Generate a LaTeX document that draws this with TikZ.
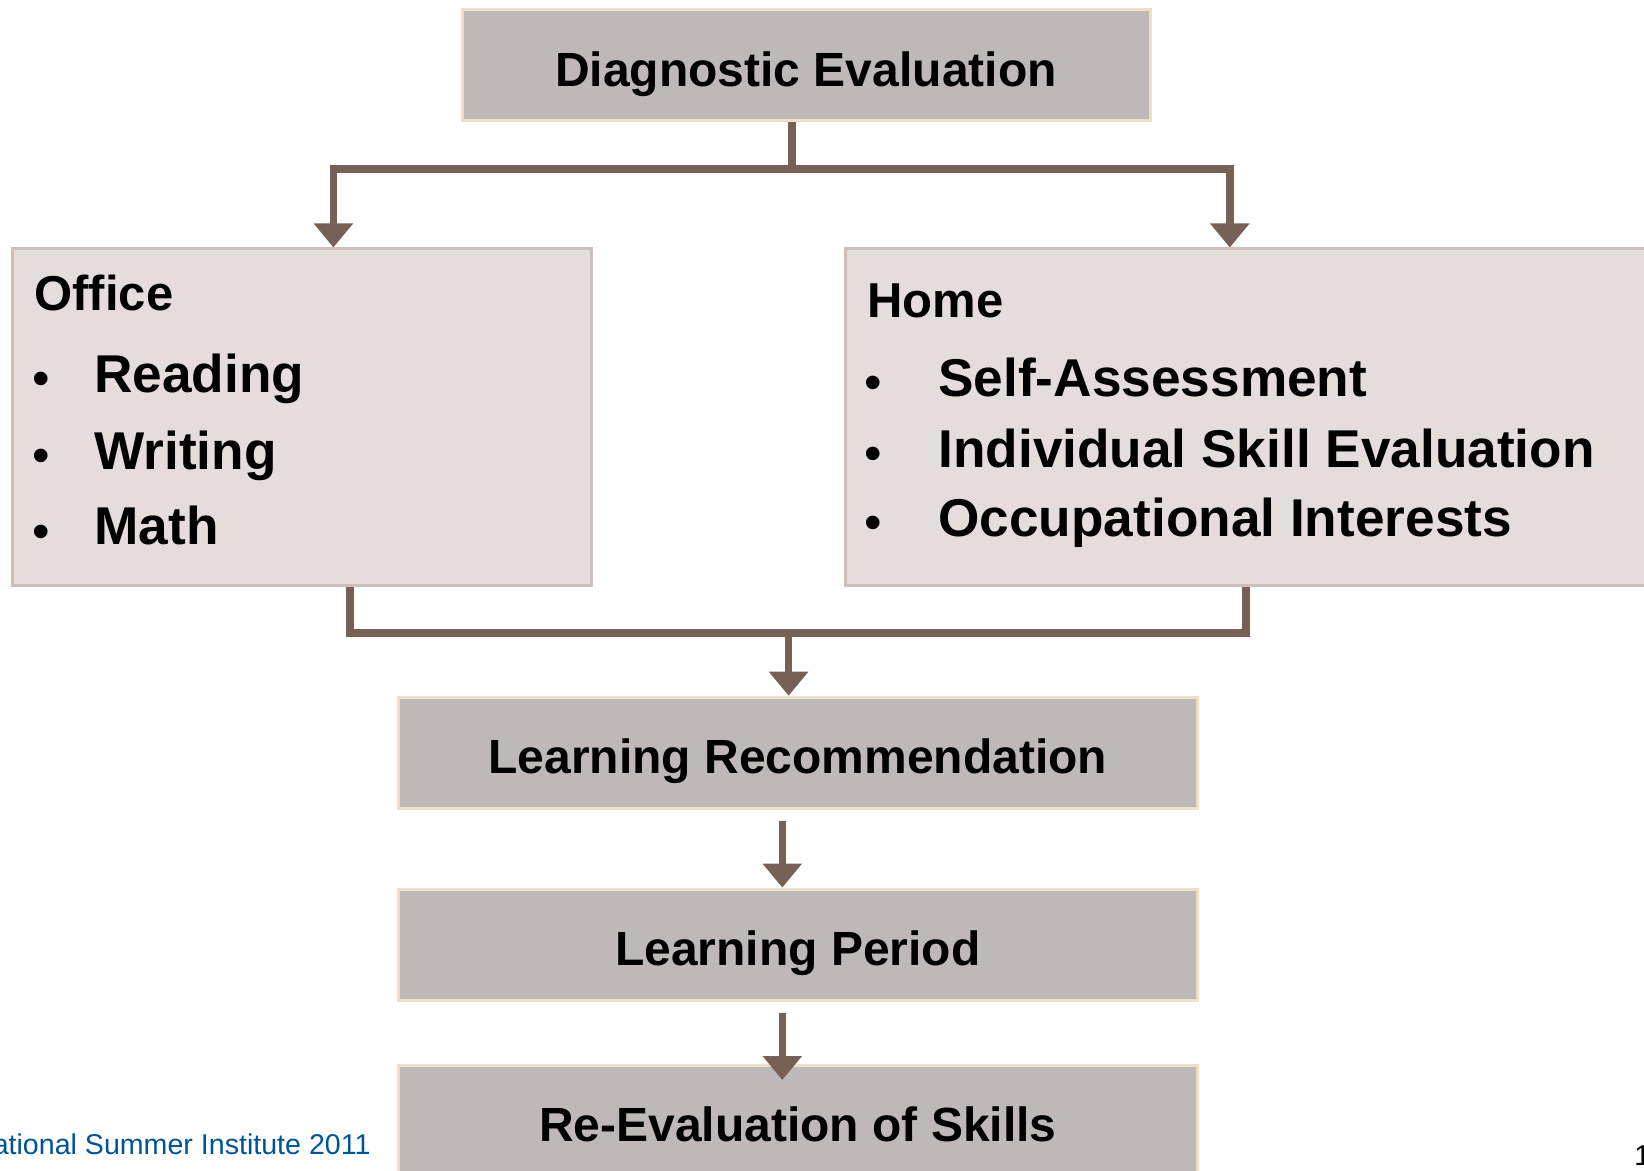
\documentclass[tikz,border=0pt]{standalone}
\usepackage{fontspec}
\setmainfont{Liberation Sans}
\usetikzlibrary{arrows.meta}
\definecolor{darkfill}{RGB}{191,184,184}
\definecolor{darkedge}{RGB}{236,224,200}
\definecolor{lightfill}{RGB}{229,221,219}
\definecolor{lightedge}{RGB}{205,192,188}
\definecolor{conncol}{RGB}{119,96,86}
\definecolor{footblue}{RGB}{0,84,150}
\begin{document}
\begin{tikzpicture}[x=0.5pt,y=-0.5pt,
  darkbox/.style={draw=darkedge, line width=1.5pt, fill=darkfill, inner sep=0pt,
    minimum height=55.5pt, font=\bfseries\fontsize{24}{28}\selectfont,
    text height=21.2pt, text depth=0pt},
  lightbox/.style={draw=lightedge, line width=1.5pt, fill=lightfill, inner sep=0pt},
  head/.style={anchor=base west, inner sep=0pt, font=\bfseries\fontsize{24.5}{28}\selectfont},
  item/.style={anchor=base west, inner sep=0pt, font=\bfseries\fontsize{26.6}{30}\selectfont},
  bul/.style={anchor=base, inner sep=0pt, font=\fontsize{25}{28}\selectfont},
  conn/.style={draw=conncol, line width=3.75pt},
  arr/.style={conn, -{Triangle[width=19pt,length=12pt]}}
]
\useasboundingbox (0,0) rectangle (1644,1171);
\clip (0,0) rectangle (1644,1171);

% boxes
\node[darkbox, minimum width=344pt] (diag) at (806,65) {Diagnostic Evaluation};
\node[lightbox, minimum width=289.2pt, minimum height=168.35pt] (office) at (301.8,417.3) {};
\node[lightbox, minimum width=430pt, minimum height=168.35pt, anchor=north west] (home) at (843.5,247.5) {};
\node[darkbox, minimum width=399.5pt] (rec) at (797.9,752.7) {Learning Recommendation};
\node[darkbox, minimum width=399.5pt] (period) at (797.9,944.6) {Learning Period};
\node[darkbox, minimum width=399.5pt] (reeval) at (797.9,1120.5) {Re-Evaluation of Skills};

% office text
\node[head] (officeT) at (34,311) {Office};
\node[bul] (ob1) at (41,396) {•};
\node[item] (reading) at (94,393) {Reading};
\node[bul] (ob2) at (41,473) {•};
\node[item] (writing) at (94,470) {Writing};
\node[bul] (ob3) at (41,548) {•};
\node[item] (math) at (94,545) {Math};

% home text
\node[head] (homeT) at (867,318) {Home};
\node[bul] (hb1) at (873,399.7) {•};
\node[item] (self) at (938,396.7) {Self-Assessment};
\node[bul] (hb2) at (873,471) {•};
\node[item] (indiv) at (938,468) {Individual Skill Evaluation};
\node[bul] (hb3) at (873,539.7) {•};
\node[item] (occup) at (938,536.7) {Occupational Interests};

% footer
\node[anchor=base east, inner sep=0pt, text=footblue, font=\fontsize{14.3}{17}\selectfont] (foot) at (371,1154) {National Summer Institute 2011};
\node[anchor=base west, inner sep=0pt, font=\fontsize{14.3}{17}\selectfont] (pnum) at (1634,1165) {13};

% connectors
\coordinate (j1) at (792,169);
\draw[conn] (j1 |- diag.south) -- (j1);
\draw[arr] (j1) -| (333.4,0 |- office.north);
\draw[arr] (j1) -| (1229.8,0 |- home.north);

\coordinate (j2) at (788.6,633);
\draw[conn] (350,0 |- office.south) |- (j2) -| (1246,0 |- home.south);
\draw[arr] (j2) -- (j2 |- rec.north);

\coordinate (s1) at (782.3,821);
\draw[arr] (s1) -- (s1 |- period.north);
\coordinate (s2) at (782.3,1013.3);
\coordinate (e2) at (782.3,1080);
\draw[arr] (s2) -- (e2);
\end{tikzpicture}
\end{document}
